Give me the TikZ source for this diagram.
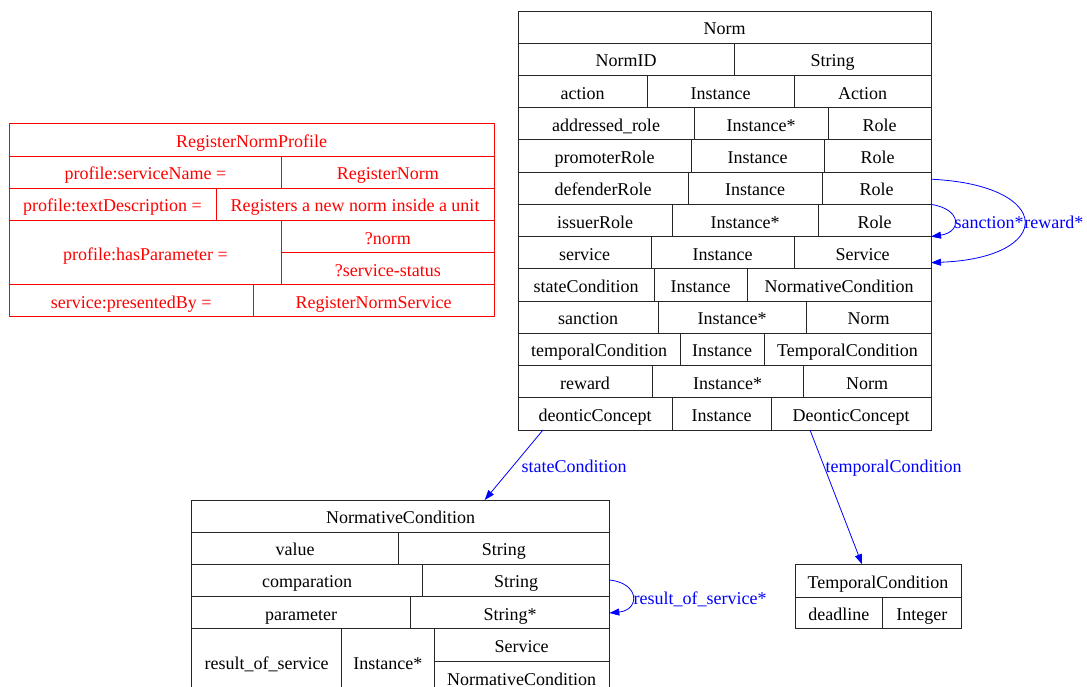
\documentclass[tikz,border=0pt]{standalone}
\usepackage{fontspec}
\setmainfont{Liberation Serif}
\usetikzlibrary{arrows.meta}
\newcommand\mycell[7]{%
  \pgfmathsetmacro\cellw{#5-#3}%
  \pgfmathsetmacro\cellh{#6-#4}%
  \node[#1, minimum width=\cellw pt, minimum height=\cellh pt] (#2) at ({(#3+#5)/2},{(#4+#6)/2}) {#7};%
}
\begin{document}
\begin{tikzpicture}[x=1pt,y=-1pt, font=\fontsize{18}{20}\selectfont,
  cellbox/.style={draw, inner sep=0pt, outer sep=0pt, line width=0.9pt, text height=18pt, text depth=3pt},
  blk/.style={cellbox, draw=black!85, text=black},
  redc/.style={cellbox, draw=red, text=red},
  link/.style={draw=blue, line width=0.8pt, -{Triangle[length=10pt,width=7pt]}},
  lbl/.style={text=blue, inner sep=0pt, text height=14pt, text depth=3pt}]
\useasboundingbox (0,0) rectangle (1087,686);

% ---------------- Norm ----------------
\mycell{blk}{nT}{518}{11}{931}{43.2}{Norm}
\mycell{blk}{n1a}{518}{43.2}{734}{75.5}{NormID}
\mycell{blk}{n1b}{734}{43.2}{931}{75.5}{String}
\mycell{blk}{n2a}{518}{75.5}{647}{107.7}{action}
\mycell{blk}{n2b}{647}{75.5}{794}{107.7}{Instance}
\mycell{blk}{n2c}{794}{75.5}{931}{107.7}{Action}
\mycell{blk}{n3a}{518}{107.7}{694}{139.9}{addressed\_role}
\mycell{blk}{n3b}{694}{107.7}{828}{139.9}{Instance*}
\mycell{blk}{n3c}{828}{107.7}{931}{139.9}{Role}
\mycell{blk}{n4a}{518}{139.9}{691}{172.2}{promoterRole}
\mycell{blk}{n4b}{691}{139.9}{824}{172.2}{Instance}
\mycell{blk}{n4c}{824}{139.9}{931}{172.2}{Role}
\mycell{blk}{n5a}{518}{172.2}{688}{204.4}{defenderRole}
\mycell{blk}{n5b}{688}{172.2}{822}{204.4}{Instance}
\mycell{blk}{n5c}{822}{172.2}{931}{204.4}{Role}
\mycell{blk}{n6a}{518}{204.4}{672}{236.6}{issuerRole}
\mycell{blk}{n6b}{672}{204.4}{818}{236.6}{Instance*}
\mycell{blk}{n6c}{818}{204.4}{931}{236.6}{Role}
\mycell{blk}{n7a}{518}{236.6}{651}{268.8}{service}
\mycell{blk}{n7b}{651}{236.6}{794}{268.8}{Instance}
\mycell{blk}{n7c}{794}{236.6}{931}{268.8}{Service}
\mycell{blk}{n8a}{518}{268.8}{654}{301.1}{stateCondition}
\mycell{blk}{n8b}{654}{268.8}{747}{301.1}{Instance}
\mycell{blk}{n8c}{747}{268.8}{931}{301.1}{NormativeCondition}
\mycell{blk}{n9a}{518}{301.1}{658}{333.3}{sanction}
\mycell{blk}{n9b}{658}{301.1}{806}{333.3}{Instance*}
\mycell{blk}{n9c}{806}{301.1}{931}{333.3}{Norm}
\mycell{blk}{n10a}{518}{333.3}{680}{365.5}{temporalCondition}
\mycell{blk}{n10b}{680}{333.3}{764}{365.5}{Instance}
\mycell{blk}{n10c}{764}{333.3}{931}{365.5}{TemporalCondition}
\mycell{blk}{n11a}{518}{365.5}{652}{397.8}{reward}
\mycell{blk}{n11b}{652}{365.5}{803}{397.8}{Instance*}
\mycell{blk}{n11c}{803}{365.5}{931}{397.8}{Norm}
\mycell{blk}{n12a}{518}{397.8}{672}{430}{deonticConcept}
\mycell{blk}{n12b}{672}{397.8}{771}{430}{Instance}
\mycell{blk}{n12c}{771}{397.8}{931}{430}{DeonticConcept}

% ---------------- RegisterNormProfile ----------------
\mycell{redc}{pT}{9}{123.5}{494}{156}{RegisterNormProfile}
\mycell{redc}{p1a}{9}{156}{281.7}{188.3}{profile:serviceName =}
\mycell{redc}{p1b}{281.7}{156}{494}{188.3}{RegisterNorm}
\mycell{redc}{p2a}{9}{188.3}{216}{220.5}{profile:textDescription =}
\mycell{redc}{p2b}{216}{188.3}{494}{220.5}{Registers a new norm inside a unit}
\mycell{redc}{p3a}{9}{220.5}{281.7}{284.5}{profile:hasParameter =}
\mycell{redc}{p3b}{281.7}{220.5}{494}{252.5}{?norm}
\mycell{redc}{p3c}{281.7}{252.5}{494}{284.5}{?service-status}
\mycell{redc}{p4a}{9}{284.5}{253.3}{316.7}{service:presentedBy =}
\mycell{redc}{p4b}{253.3}{284.5}{494}{316.7}{RegisterNormService}

% ---------------- NormativeCondition ----------------
\mycell{blk}{cT}{191.7}{500}{609.3}{532.3}{NormativeCondition}
\mycell{blk}{c1a}{191.7}{532.3}{398.3}{564}{value}
\mycell{blk}{c1b}{398.3}{532.3}{609.3}{564}{String}
\mycell{blk}{c2a}{191.7}{564}{422.7}{596.7}{comparation}
\mycell{blk}{c2b}{422.7}{564}{609.3}{596.7}{String}
\mycell{blk}{c3a}{191.7}{596.7}{410.7}{628.7}{parameter}
\mycell{blk}{c3b}{410.7}{596.7}{609.3}{628.7}{String*}
\mycell{blk}{c4a}{191.7}{628.7}{341.7}{694.7}{result\_of\_service}
\mycell{blk}{c4b}{341.7}{628.7}{434}{694.7}{Instance*}
\mycell{blk}{c4c}{434}{628.7}{609.3}{661.5}{Service}
\mycell{blk}{c4d}{434}{661.5}{609.3}{694.7}{NormativeCondition}

% ---------------- TemporalCondition ----------------
\mycell{blk}{tT}{795}{564.3}{961}{597}{TemporalCondition}
\mycell{blk}{t1a}{795}{597}{882.7}{628.7}{deadline}
\mycell{blk}{t1b}{882.7}{597}{961}{628.7}{Integer}

% ---------------- connectors ----------------
\draw[link] (n6c.north east) .. controls (962,209) and (962,232) .. (n7c.north east)
  node[pos=0.5, lbl, anchor=west, yshift=-2pt] {sanction*};
\draw[link] ([yshift=-7pt]n5c.north east) .. controls (1055,185) and (1055,258) .. ([yshift=-26pt]n7c.north east)
  node[pos=0.5, lbl, anchor=west, yshift=-2pt] {reward*};
\draw[link] ([yshift=-16pt]c2b.north east) .. controls (640,583) and (640,610) .. ([yshift=-16.3pt]c3b.north east)
  node[pos=0.5, lbl, anchor=west, xshift=1pt, yshift=-2pt] {result\_of\_service*};
\draw[link] ([xshift=25pt]n12a.south west) -- ([xshift=293pt]cT.north west)
  node[pos=0.53, lbl, anchor=west, xshift=9pt] {stateCondition};
\draw[link] ([xshift=39pt]n12c.south west) -- ([xshift=67pt]tT.north west)
  node[pos=0.274, lbl, anchor=west, xshift=1pt] {temporalCondition};
\end{tikzpicture}
\end{document}
